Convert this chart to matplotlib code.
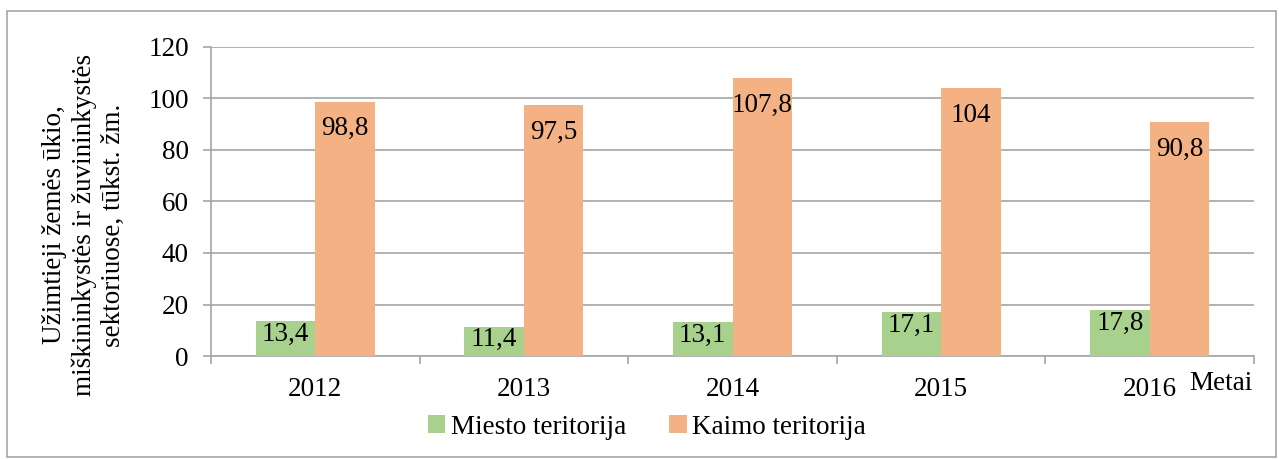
import matplotlib
matplotlib.use("Agg")
import matplotlib.pyplot as plt
from matplotlib.patches import Rectangle
import numpy as np

years = ["2012", "2013", "2014", "2015", "2016"]
miesto = [13.4, 11.4, 13.1, 17.1, 17.8]
kaimo = [98.8, 97.5, 107.8, 104, 90.8]
series_names = ["Miesto teritorija", "Kaimo teritorija"]
yticks = [0, 20, 40, 60, 80, 100, 120]
ylabel = "Užimtieji žemės ūkio,\nmiškininkystės ir žuvininkystės\nsektoriuose, tūkst. žm."
xlabel = "Metai"

plt.rcParams['font.family'] = ['Liberation Serif', 'DejaVu Serif']

W, H = 1279, 459
fig = plt.figure(figsize=(W / 100, H / 100), dpi=100)
ax = fig.add_axes([211 / W, 1 - 356 / H, (1254 - 211) / W, (356 - 47) / H])

green = "#A9D18E"
orange = "#F4B183"
grid_c = "#A6A6A6"
bw = 0.285
x = np.arange(len(years))
b1 = ax.bar(x - bw / 2, miesto, bw, color=green, label=series_names[0], zorder=3)
b2 = ax.bar(x + bw / 2, kaimo, bw, color=orange, label=series_names[1], zorder=3)

fmt = lambda v: (f"{v:g}").replace(".", ",")
for rect, v in zip(b1, miesto):
    ax.annotate(fmt(v), (rect.get_x() + rect.get_width() / 2, v), xytext=(0, -13),
                textcoords="offset pixels", ha="center", va="center", fontsize=19.5, zorder=4)
for rect, v in zip(b2, kaimo):
    ax.annotate(fmt(v), (rect.get_x() + rect.get_width() / 2, v), xytext=(0, -27),
                textcoords="offset pixels", ha="center", va="center", fontsize=19.5, zorder=4)

ax.set_xlim(-0.5, len(years) - 0.5)
ax.set_ylim(0, 120)
ax.set_yticks(yticks)
ax.set_yticklabels([str(t) for t in yticks], fontsize=19.5)
ax.yaxis.grid(True, color=grid_c, linewidth=1.2, zorder=0)
ax.set_xticks(x)
ax.set_xticklabels(years, fontsize=19.5)
ax.set_xticks(np.arange(-0.5, len(years)), minor=True)
ax.tick_params(axis='x', which='major', length=0, pad=15)
ax.tick_params(axis='x', which='minor', length=6, color=grid_c, width=1.2)
ax.tick_params(axis='y', length=6, color=grid_c, width=1.2, pad=10)
for s in ["top", "right"]:
    ax.spines[s].set_visible(False)
for s in ["left", "bottom"]:
    ax.spines[s].set_color(grid_c)
    ax.spines[s].set_linewidth(1.2)

fig.text(84 / W, 1 - 225 / H, ylabel, rotation=90, ha="center", va="center",
         fontsize=19.5, linespacing=1.2)
fig.text(1253 / W, 1 - 384 / H, xlabel, ha="right", va="center", fontsize=19.5)

leg = fig.legend(handles=[b1, b2], labels=series_names, loc="center",
                 bbox_to_anchor=(647 / W, 1 - 427 / H), ncol=2, frameon=False,
                 fontsize=19.5, handlelength=0.65, handleheight=0.65, handletextpad=0.2,
                 columnspacing=1.6)

fig.patches.append(Rectangle((7 / W, 2 / H), (1276 - 7) / W, (448 - 2) / H,
                             transform=fig.transFigure, fill=False,
                             edgecolor="#A6A6A6", linewidth=1.2))

fig.savefig("out.png", dpi=100)
